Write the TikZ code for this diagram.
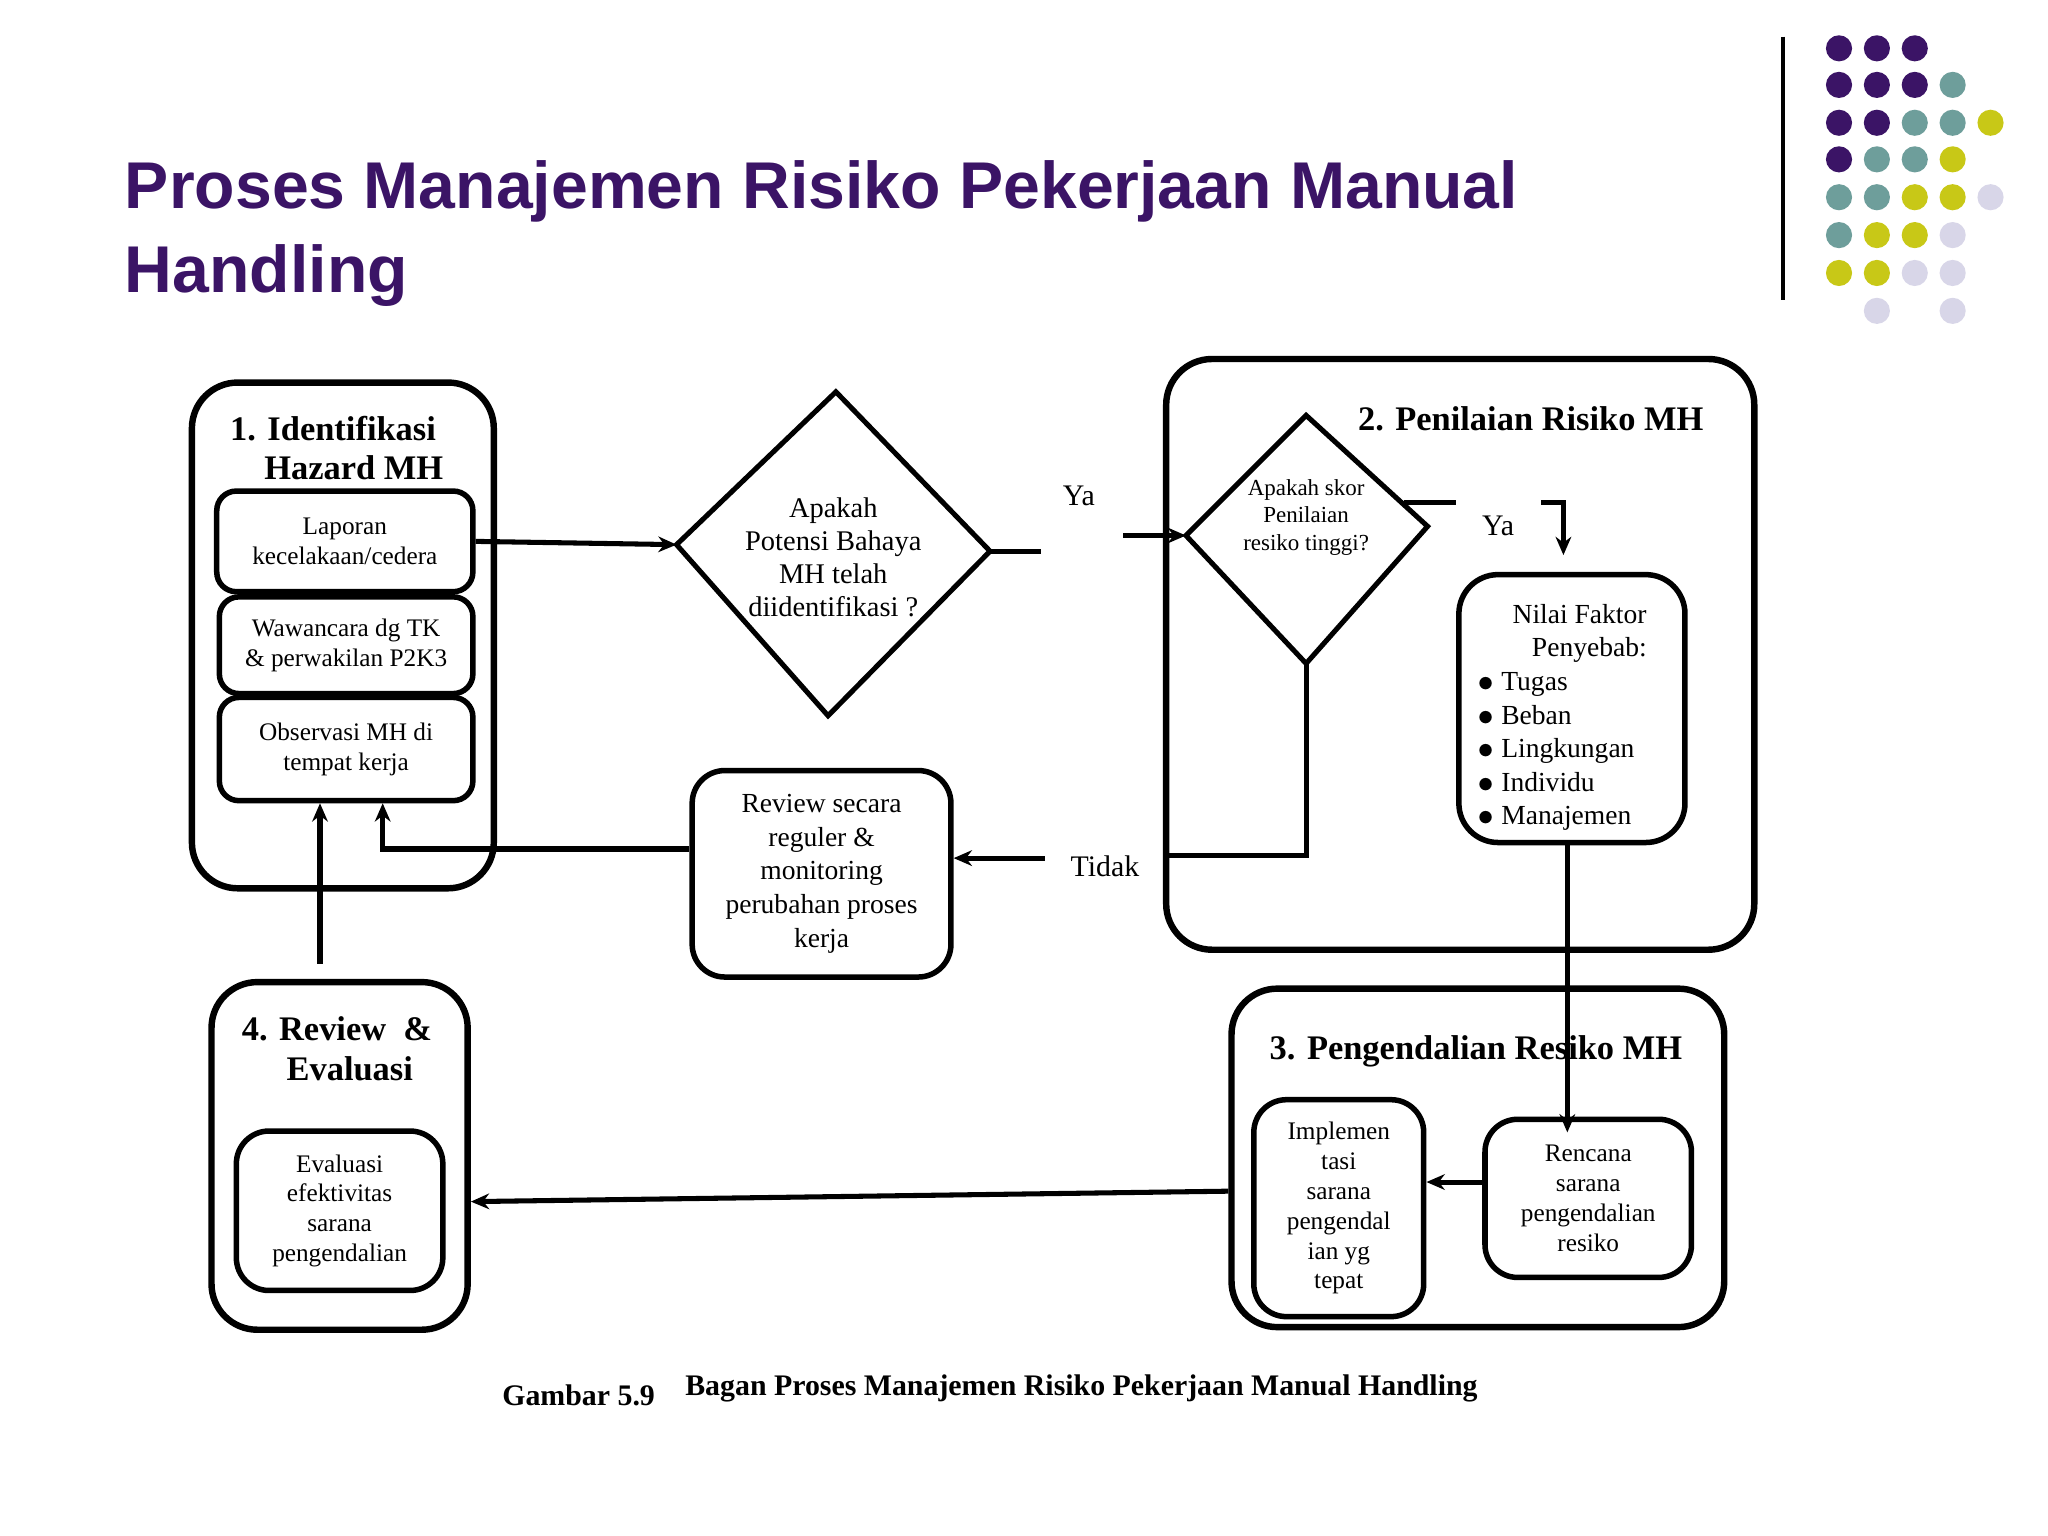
\documentclass[tikz,border=0pt]{standalone}
\usepackage{fontspec}
\setmainfont{Liberation Serif}
\newfontfamily\titlefont{Liberation Sans}
\usetikzlibrary{arrows.meta}
\definecolor{tpurple}{HTML}{3B1466}
\definecolor{dteal}{HTML}{6E9E9B}
\definecolor{dyellow}{HTML}{C8C817}
\definecolor{dlav}{HTML}{D8D6E8}
\tikzset{
 outer/.style={draw,line width=1.4pt,rounded corners=0.35cm,inner sep=0pt},
 inner/.style={draw,line width=1.2pt,rounded corners=0.15cm,inner sep=0pt,align=center,font=\fontsize{5.5}{6.5}\selectfont},
 ttl/.style={align=center,font=\bfseries\fontsize{7.5}{8.6}\selectfont},
 lbl/.style={font=\fontsize{6.5}{7.5}\selectfont},
 con/.style={line width=1.1pt},
 arr/.style={line width=1.1pt,-{Stealth[length=0.14cm,width=0.12cm]}},
 dot/.style={circle,inner sep=0pt,minimum size=0.2cm}
}
\begin{document}
\begin{tikzpicture}[x=0.01cm,y=-0.01cm]
\useasboundingbox[fill=white] (0,0) rectangle (1568,1176);
% title
\node[anchor=base west,inner sep=0pt,text=tpurple,font=\titlefont\bfseries\fontsize{14.4}{18}\selectfont] (t1) at (95,160) {Proses Manajemen Risiko Pekerjaan Manual};
\node[anchor=base west,inner sep=0pt,text=tpurple,font=\titlefont\bfseries\fontsize{14.4}{18}\selectfont] (t2) at (95,224) {Handling};
\draw[line width=0.8pt] (1365,28) -- (1365,230);
% dots
\foreach \c/\x/\y in {tpurple/1408/37,tpurple/1437/37,tpurple/1466/37,
 tpurple/1408/65,tpurple/1437/65,tpurple/1466/65,dteal/1495/65,
 tpurple/1408/94,tpurple/1437/94,dteal/1466/94,dteal/1495/94,dyellow/1524/94,
 tpurple/1408/122,dteal/1437/122,dteal/1466/122,dyellow/1495/122,
 dteal/1408/151,dteal/1437/151,dyellow/1466/151,dyellow/1495/151,dlav/1524/151,
 dteal/1408/180,dyellow/1437/180,dyellow/1466/180,dlav/1495/180,
 dyellow/1408/209,dyellow/1437/209,dlav/1466/209,dlav/1495/209,
 dlav/1437/238,dlav/1495/238}
 \node[dot,fill=\c] at (\x,\y) {};
% box 1
\node[outer,minimum width=2.31cm,minimum height=3.87cm] (box1) at (262.5,486.5) {};
\node[ttl] (box1t) at (255,343) {1. Identifikasi\\\hspace*{1.2em}Hazard MH};
\node[inner,minimum width=1.96cm,minimum height=0.77cm] (b1a) at (264,414.5) {Laporan\\kecelakaan/cedera};
\node[inner,minimum width=1.94cm,minimum height=0.74cm] (b1b) at (265,494) {Wawancara dg TK\\\& perwakilan P2K3};
\node[inner,minimum width=1.94cm,minimum height=0.79cm] (b1c) at (265,573.5) {Observasi MH di\\tempat kerja};
% diamond 1
\coordinate (d1t) at (640,300); \coordinate (d1b) at (634,548);
\coordinate (d1l) at (518,417); \coordinate (d1r) at (758,422);
\draw[con] (d1t) -- (d1r) -- (d1b) -- (d1l) -- cycle;
\node[align=center,font=\fontsize{6.2}{7.2}\selectfont] (d1txt) at (638,427) {Apakah\\Potensi Bahaya\\MH telah\\diidentifikasi ?};
% box 2
\node[outer,minimum width=4.50cm,minimum height=4.52cm] (box2) at (1118,501) {};
\node[ttl] (box2t) at (1172,321) {2. Penilaian Risiko MH};
\coordinate (d2t) at (1000,318); \coordinate (d2b) at (1000,508);
\coordinate (d2l) at (908,410); \coordinate (d2r) at (1093,403);
\draw[con] (d2t) -- (d2r) -- (d2b) -- (d2l) -- cycle;
\node[align=center,font=\fontsize{5}{6}\selectfont] (d2txt) at (1000,396) {Apakah skor\\Penilaian\\resiko tinggi?};
\node[inner,minimum width=1.73cm,minimum height=2.05cm,rounded corners=0.3cm] (nilai) at (1203.5,542.5) {};
\node[align=left,anchor=north west,inner sep=0pt,font=\fontsize{6}{7.3}\selectfont] (nilaitxt) at (1130,462) {\hspace*{1.3em}Nilai Faktor\\\hspace*{2em}Penyebab:\\$\bullet$\ Tugas\\$\bullet$\ Beban\\$\bullet$\ Lingkungan\\$\bullet$\ Individu\\$\bullet$\ Manajemen};
% review
\node[inner,minimum width=1.98cm,minimum height=1.58cm,rounded corners=0.25cm,font=\fontsize{6}{7.3}\selectfont] (review) at (629,669) {Review secara\\reguler \&\\monitoring\\perubahan proses\\kerja};
% box 4
\node[outer,minimum width=1.96cm,minimum height=2.66cm] (box4) at (260,885) {};
\node[ttl,align=left] (box4t) at (258,803) {4. Review \ \&\\\hspace*{1.3em}Evaluasi};
\node[inner,minimum width=1.58cm,minimum height=1.22cm,rounded corners=0.25cm] (b4a) at (260,927) {Evaluasi\\efektivitas\\sarana\\pengendalian};
% box 3
\node[outer,minimum width=3.77cm,minimum height=2.59cm] (box3) at (1131.5,886.5) {};
\node[ttl] (box3t) at (1130,805) {3. Pengendalian Resiko MH};
\node[inner,minimum width=1.30cm,minimum height=1.66cm,rounded corners=0.25cm] (impl) at (1025,925) {Implemen\\tasi\\sarana\\pengendal\\ian yg\\tepat};
\node[inner,minimum width=1.58cm,minimum height=1.21cm,rounded corners=0.25cm] (renc) at (1216,917.5) {Rencana\\sarana\\pengendalian\\resiko};
% connectors
\draw[arr] (b1a.east) -- (d1l);
\coordinate (yaA) at (797,422); \coordinate (yaB) at (860,410);
\draw[con] (d1r) -- (yaA);
\draw[arr] (yaB) -- (d2l);
\node[lbl] (ya1) at (826,380) {Ya};
\coordinate (ya2a) at (1115,385); \coordinate (ya2b) at (1180,385); \coordinate (ya2c) at (1197,385); \coordinate (ya2d) at (1197,425);
\draw[con] (1075,385) -- (ya2a);
\draw[arr] (ya2b) -- (ya2c) -- (ya2d);
\node[lbl] (ya2) at (1147,403) {Ya};
\coordinate (td1) at (1000,655); \coordinate (td2) at (895,655);
\draw[con] (d2b) -- (td1) -- (td2);
\node[lbl] (tidak) at (846,663) {Tidak};
\coordinate (td3) at (800,657);
\draw[arr] (td3) -- (review.east |- td3);
\coordinate (rv1) at (293,650);
\draw[arr] (review.west |- rv1) -- (rv1) -- (293,615);
\coordinate (b4up) at (245,738);
\draw[arr] (b4up) -- (245,615);
\draw[arr] (nilai.south -| 1200,0) -- (1200,867);
\draw[arr] (renc.west |- 0,905) -- (impl.east |- 0,905);
\draw[arr] (box3.west |- 0,912) -- (box4.east |- 0,920);
% caption
\node[font=\bfseries\fontsize{6.5}{7.5}\selectfont] (cap1) at (443,1068) {Gambar 5.9};
\node[font=\bfseries\fontsize{6.5}{7.5}\selectfont] (cap2) at (828,1063) {Bagan Proses Manajemen Risiko Pekerjaan Manual Handling};
\end{tikzpicture}
\end{document}
